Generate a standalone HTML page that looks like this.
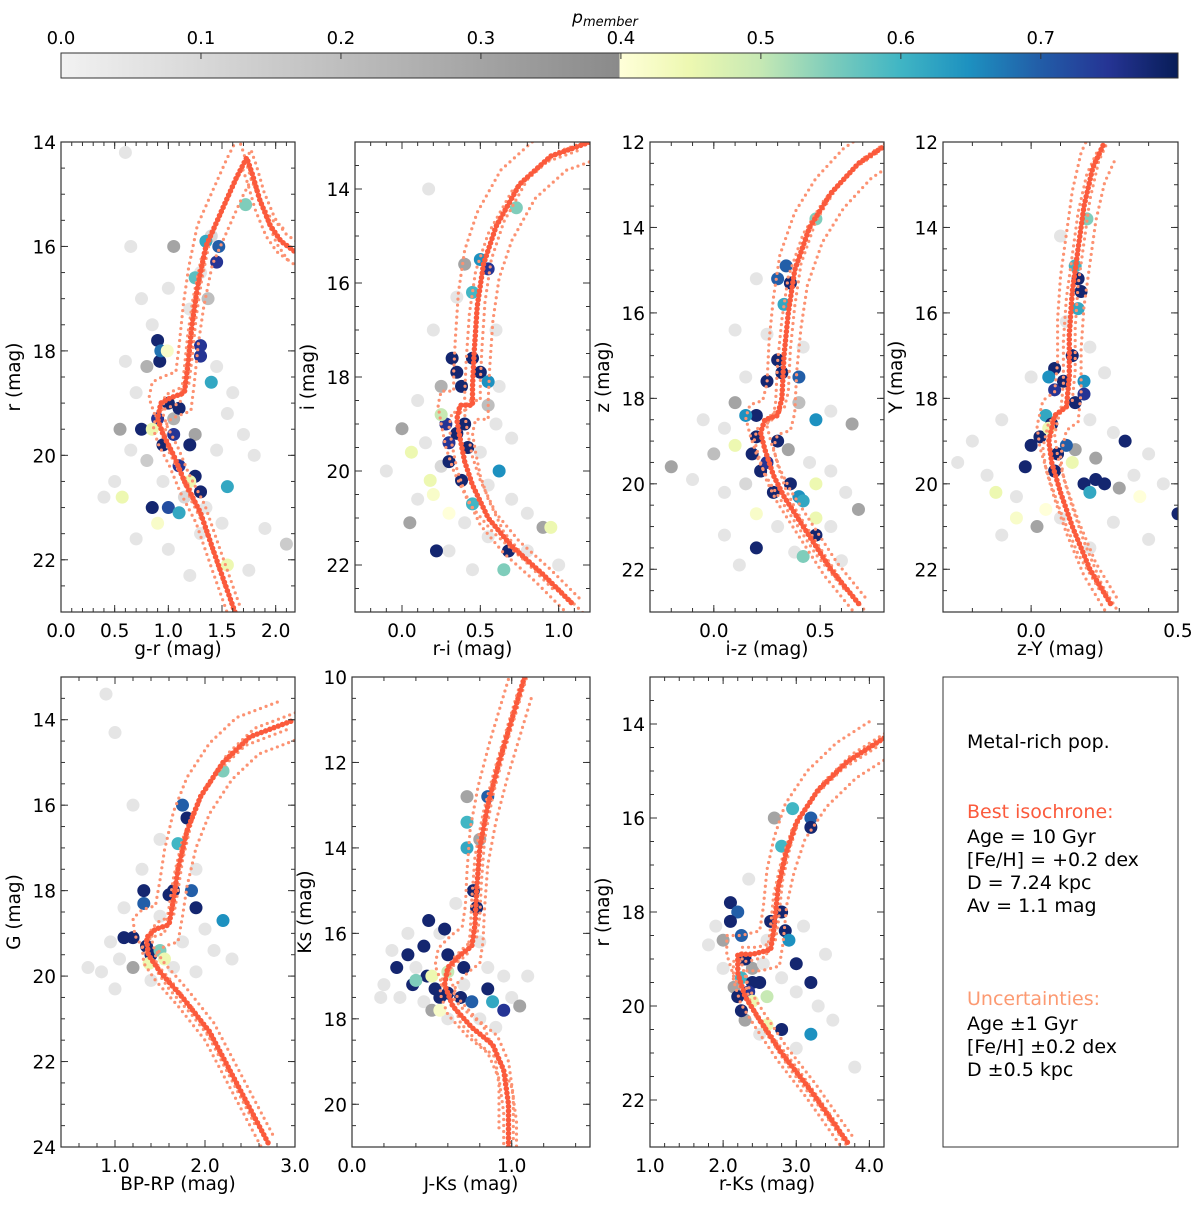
<!DOCTYPE html>
<html><head><meta charset="utf-8"><style>
body{margin:0;background:#fff}
svg{display:block;font-family:"DejaVu Sans","Liberation Sans",sans-serif}
</style></head><body>
<svg id="fig" width="1200" height="1208" viewBox="0 0 1200 1208" xmlns="http://www.w3.org/2000/svg">
<defs>
<linearGradient id="cbgrad" x1="0" x2="1" y1="0" y2="0">
<stop offset="0" stop-color="#f2f2f2"/><stop offset="0.5" stop-color="#8a8a8a"/>
<stop offset="0.5" stop-color="#ffffd9"/><stop offset="0.5625" stop-color="#edf8b1"/><stop offset="0.625" stop-color="#c7e9b4"/><stop offset="0.6875" stop-color="#7fcdbb"/><stop offset="0.75" stop-color="#41b6c4"/><stop offset="0.8125" stop-color="#1d91c0"/><stop offset="0.875" stop-color="#225ea8"/><stop offset="0.9375" stop-color="#253494"/><stop offset="1" stop-color="#081d58"/>
</linearGradient>
</defs>
<g>
<text x="605" y="23" font-size="17" font-style="italic" text-anchor="middle">p<tspan font-size="13" dy="3">member</tspan></text>
<rect x="61" y="53" width="1117" height="25" fill="url(#cbgrad)" stroke="#333" stroke-width="1"/>
<g id="cbticks"></g>
</g>
<g id="panels"></g>
<g>
<rect x="943" y="677" width="235" height="470" fill="none" stroke="#333" stroke-width="1"/>
<g font-size="19" font-family="'DejaVu Sans','Liberation Sans',sans-serif">
<text x="967" y="748">Metal-rich pop.</text>
<text x="967" y="818" fill="#fb5a3c">Best isochrone:</text>
<text x="967" y="843">Age = 10 Gyr</text>
<text x="967" y="866">[Fe/H] = +0.2 dex</text>
<text x="967" y="889">D = 7.24 kpc</text>
<text x="967" y="912">Av = 1.1 mag</text>
<text x="967" y="1005" fill="#fc9a72">Uncertainties:</text>
<text x="967" y="1030">Age ±1 Gyr</text>
<text x="967" y="1053">[Fe/H] ±0.2 dex</text>
<text x="967" y="1076">D ±0.5 kpc</text>
</g>
</g>
</svg>
<script>
// ---- colorbar data ----
const cbTicks = [0.0,0.1,0.2,0.3,0.4,0.5,0.6,0.7];
const cbMax = 0.798;

// ---- panel 1: g-r vs r ----
const p1Iso = [[1.62,23],[1.45,22],[1.3,21.1],[1.15,20.5],[1.05,20],[0.95,19.6],[0.9,19.3],[0.93,19.0],[1.02,18.9],[1.15,18.8],[1.18,18.3],[1.22,17.5],[1.27,16.8],[1.35,16.0],[1.5,15.3],[1.63,14.7],[1.73,14.3],[1.78,14.6],[1.85,15.1],[1.95,15.6],[2.05,15.9],[2.18,16.1]];
const p1Offsets = [[-0.08,-0.4],[0.06,0.35],[0.04,-0.15],[-0.04,0.2]];
const p1Members = [[0.9,17.8,.78],[0.92,18.2,.78],[1.3,17.9,.75],[1.3,18.1,.75],[1.4,18.6,.62],[1.35,15.9,.62],[1.47,16.0,.7],[1.45,16.3,.75],[1.25,16.6,.58],[1.72,15.2,.55],[0.75,19.5,.78],[0.9,19.3,.75],[1.0,19.0,.78],[1.1,19.1,.78],[1.05,19.6,.75],[1.2,19.8,.78],[1.1,20.2,.75],[1.25,20.4,.78],[1.3,20.7,.78],[1.55,20.6,.62],[0.95,19.8,.78],[0.85,21.0,.78],[1.0,21.0,.72],[1.1,21.1,.62],[0.57,20.8,.45],[0.9,21.3,.42],[1.55,22.1,.45],[0.85,19.5,.45],[1.2,20.5,.45],[0.93,18.0,.68],[0.99,18.0,.42]];
const p1Field = [[0.65,16.0,.05],[1.05,16.0,.3],[1.4,15.8,.1],[1.3,16.5,.05],[0.85,17.5,.05],[1.2,17.2,.05],[0.6,18.2,.05],[0.7,18.8,.05],[0.8,18.3,.25],[1.45,18.3,.05],[0.55,19.5,.3],[0.65,19.9,.05],[0.8,20.1,.15],[0.5,20.5,.05],[1.45,19.9,.05],[1.55,19.2,.05],[1.7,19.6,.05],[1.8,20.0,.05],[0.95,20.5,.05],[1.15,20.8,.1],[1.35,21.0,.05],[1.5,21.3,.05],[0.7,21.6,.05],[1.0,21.8,.05],[1.3,21.5,.05],[1.9,21.4,.05],[2.1,21.7,.15],[1.75,22.2,.05],[0.4,20.8,.05],[1.2,22.3,.05],[0.6,14.2,.05],[1.6,18.8,.05],[1.05,19.3,.25],[1.25,19.6,.3],[1.37,17.0,.2],[0.75,17.0,.05],[1.0,16.8,.05]];

// ---- panel 2: r-i vs i ----
const p2Iso = [[1.08,22.8],[0.9,22.2],[0.7,21.6],[0.55,21],[0.45,20.3],[0.4,19.8],[0.37,19.3],[0.35,18.9],[0.37,18.6],[0.45,18.6],[0.45,18.2],[0.46,17.5],[0.48,16.5],[0.52,15.6],[0.6,14.8],[0.75,13.9],[0.95,13.3],[1.2,13.0]];
const p2Offsets = [[-0.12,-0.3],[0.1,0.3],[0.05,-0.1],[-0.05,0.15]];
const p2Members = [[0.32,17.6,.78],[0.35,17.9,.78],[0.38,18.2,.78],[0.45,17.6,.78],[0.5,17.9,.78],[0.55,18.1,.65],[0.5,15.5,.65],[0.55,15.7,.75],[0.45,16.2,.6],[0.73,14.4,.55],[0.28,19.0,.75],[0.3,19.4,.75],[0.3,19.8,.78],[0.35,19.2,.78],[0.4,19.0,.78],[0.42,19.5,.78],[0.38,20.2,.78],[0.45,20.7,.6],[0.62,20.0,.65],[0.22,21.7,.78],[0.68,21.7,.78],[0.65,22.1,.55],[0.06,19.6,.45],[0.18,20.2,.45],[0.2,20.5,.42],[0.95,21.2,.45],[0.3,20.9,.4],[0.25,18.8,.5]];
const p2Field = [[0.17,14.0,.05],[0.4,15.6,.3],[0.35,16.3,.05],[0.2,17.0,.05],[0.6,17.0,.05],[0.25,18.2,.25],[0.1,18.5,.05],[0.0,19.1,.3],[0.55,18.6,.2],[0.6,19.0,.05],[0.7,19.3,.05],[0.15,19.4,.05],[0.5,19.6,.05],[0.25,19.9,.1],[0.55,20.3,.05],[0.1,20.6,.05],[0.7,20.6,.05],[0.8,20.9,.05],[0.05,21.1,.3],[0.4,21.1,.05],[0.55,21.4,.05],[0.9,21.2,.3],[0.3,21.7,.05],[0.8,21.7,.05],[0.45,22.1,.05],[1.0,22.0,.05],[-0.1,20.0,.05],[0.62,18.2,.05]];

// ---- panel 3: i-z vs z ----
const p3Iso = [[0.68,22.8],[0.55,22],[0.42,21],[0.33,20.3],[0.28,19.8],[0.24,19.2],[0.22,18.8],[0.24,18.5],[0.3,18.4],[0.32,18.0],[0.33,17],[0.35,16],[0.38,15],[0.45,14],[0.55,13.2],[0.68,12.5],[0.8,12.1]];
const p3Offsets = [[-0.07,-0.35],[0.06,0.35],[0.03,-0.15],[-0.03,0.15]];
const p3Members = [[0.3,17.1,.78],[0.32,17.4,.78],[0.25,17.6,.78],[0.4,17.5,.7],[0.2,18.4,.78],[0.2,18.9,.78],[0.18,19.3,.78],[0.22,19.7,.78],[0.25,19.5,.75],[0.3,19.0,.78],[0.28,20.2,.78],[0.36,20.0,.78],[0.4,20.3,.65],[0.42,20.4,.62],[0.34,14.9,.7],[0.36,15.3,.78],[0.3,15.2,.7],[0.33,15.8,.62],[0.48,13.8,.55],[0.15,18.4,.65],[0.48,18.5,.65],[0.2,21.5,.78],[0.48,21.2,.78],[0.42,21.7,.55],[0.48,20.0,.45],[0.48,20.8,.45],[0.2,20.7,.42],[0.1,19.1,.45]];
const p3Field = [[0.2,15.2,.05],[0.25,16.5,.05],[0.15,17.5,.05],[0.1,18.1,.3],[0.4,18.1,.2],[0.05,18.7,.05],[0.55,18.3,.05],[0.0,19.3,.2],[0.35,19.2,.3],[0.45,19.5,.05],[-0.2,19.6,.3],[-0.1,19.9,.05],[0.05,20.2,.05],[0.15,20.0,.1],[0.55,19.7,.05],[0.65,18.6,.3],[0.62,20.2,.05],[0.68,20.6,.3],[0.55,21.0,.05],[0.3,21.0,.05],[0.05,21.2,.05],[0.38,21.6,.05],[0.12,21.9,.05],[0.6,21.8,.05],[0.1,16.4,.05],[0.42,16.8,.05],[-0.05,18.5,.05]];

// ---- panel 4: z-Y vs Y ----
const p4Iso = [[0.27,22.8],[0.2,22],[0.14,21],[0.1,20.2],[0.07,19.5],[0.06,19.0],[0.08,18.4],[0.12,18.2],[0.13,17.5],[0.13,16.5],[0.14,15.5],[0.16,14.5],[0.18,13.5],[0.21,12.6],[0.25,12.0]];
const p4Offsets = [[-0.04,-0.35],[0.04,0.35],[0.02,-0.15],[-0.02,0.15]];
const p4Members = [[0.14,17.0,.78],[0.08,17.3,.78],[0.06,17.5,.65],[0.08,17.8,.75],[0.11,17.6,.78],[0.18,17.6,.65],[0.18,17.9,.75],[0.15,18.1,.78],[0.05,18.4,.62],[0.07,18.6,.78],[0.03,18.9,.78],[0.0,19.1,.78],[0.09,19.3,.78],[0.12,19.1,.7],[0.08,19.7,.78],[-0.02,19.6,.78],[0.18,20.0,.78],[0.2,20.2,.62],[0.22,19.9,.78],[0.25,20.0,.78],[0.32,19.0,.78],[0.5,20.7,.78],[0.19,13.8,.55],[0.16,15.2,.78],[0.17,15.5,.78],[0.15,14.9,.6],[0.16,15.9,.62],[-0.12,20.2,.45],[-0.05,20.8,.42],[0.05,20.6,.4],[0.37,20.3,.4],[0.06,18.7,.45],[0.14,19.5,.45]];
const p4Field = [[0.1,14.2,.05],[0.12,16.2,.05],[0.2,16.8,.05],[0.0,17.5,.05],[0.25,17.4,.05],[-0.1,18.5,.05],[-0.2,19.0,.05],[0.2,18.5,.05],[0.28,18.8,.05],[0.4,19.3,.05],[-0.25,19.5,.05],[-0.15,19.8,.05],[0.15,19.2,.3],[0.22,19.4,.3],[0.3,20.1,.3],[0.35,19.8,.05],[0.45,20.0,.05],[-0.05,20.3,.05],[0.02,21.0,.3],[0.1,20.8,.05],[0.28,20.9,.05],[0.4,21.3,.05],[0.2,21.5,.05],[-0.1,21.2,.05]];

// ---- panel 5: BP-RP vs G ----
const p5Iso = [[2.7,23.9],[2.35,22.5],[2.05,21.3],[1.75,20.5],[1.5,19.9],[1.37,19.5],[1.35,19.1],[1.45,18.9],[1.6,18.8],[1.65,18.2],[1.7,17.5],[1.8,16.6],[1.95,15.8],[2.2,15.0],[2.5,14.4],[3.0,14.0]];
const p5Offsets = [[-0.15,-0.45],[0.1,0.4],[0.05,-0.2],[-0.05,0.2]];
const p5Members = [[1.32,18.0,.78],[1.32,18.3,.7],[1.6,18.1,.78],[1.65,18.0,.78],[1.85,18.0,.7],[1.9,18.4,.78],[2.2,18.7,.65],[1.1,19.1,.78],[1.2,19.1,.78],[1.35,19.3,.78],[1.4,19.5,.78],[1.5,19.4,.55],[1.75,16.0,.7],[1.8,16.3,.78],[1.7,16.9,.6],[2.2,15.2,.55],[1.38,19.7,.45],[1.55,19.6,.45]];
const p5Field = [[0.9,13.4,.05],[1.0,14.3,.05],[1.2,16.0,.05],[1.5,16.8,.05],[1.3,17.5,.05],[1.9,17.5,.05],[1.1,18.4,.05],[1.5,18.6,.05],[2.0,18.9,.05],[0.95,19.2,.05],[1.75,19.2,.05],[2.1,19.4,.05],[0.7,19.8,.05],[0.85,19.9,.05],[1.05,19.6,.05],[1.2,19.8,.3],[1.65,19.8,.05],[1.9,19.9,.05],[2.3,19.6,.05],[1.4,20.1,.05],[1.0,20.3,.05]];

// ---- panel 6: J-Ks vs Ks ----
const p6Iso = [[0.98,21],[0.98,20],[0.95,19.2],[0.88,18.6],[0.75,18.2],[0.63,17.7],[0.58,17.2],[0.6,16.8],[0.68,16.5],[0.75,16.3],[0.77,15.8],[0.78,15],[0.8,14],[0.85,13],[0.92,12],[1.0,11],[1.08,10]];
const p6Offsets = [[-0.06,-0.45],[0.05,0.4],[0.03,-0.2],[-0.03,0.2]];
const p6Members = [[0.48,15.7,.78],[0.58,15.9,.78],[0.45,16.3,.78],[0.6,16.5,.78],[0.7,16.8,.78],[0.35,16.5,.78],[0.28,16.8,.78],[0.47,17.0,.78],[0.38,17.2,.78],[0.52,17.3,.78],[0.6,17.4,.78],[0.68,17.5,.78],[0.55,17.5,.78],[0.75,17.6,.7],[0.95,17.8,.75],[0.88,17.6,.62],[0.85,17.3,.78],[0.76,15.0,.78],[0.78,15.4,.78],[0.72,14.0,.62],[0.72,13.4,.6],[0.85,12.8,.7],[0.5,17.0,.45],[0.4,17.1,.55],[0.55,17.8,.42],[0.6,16.9,.5]];
const p6Field = [[0.72,12.8,.3],[0.8,13.8,.3],[0.65,15.3,.05],[0.55,16.0,.05],[0.25,16.4,.05],[0.35,16.0,.05],[0.8,16.2,.05],[0.2,17.2,.05],[0.3,17.5,.05],[0.45,17.6,.05],[0.5,17.8,.3],[0.7,17.2,.05],[0.85,16.8,.05],[0.95,17.0,.05],[1.0,17.5,.05],[1.05,17.7,.3],[0.8,18.0,.05],[0.6,18.0,.05],[0.18,17.5,.05],[0.4,16.8,.05],[1.1,17.0,.05],[0.9,18.2,.05]];

// ---- panel 7: r-Ks vs r ----
const p7Iso = [[3.7,22.9],[3.2,21.8],[2.8,21],[2.5,20.3],[2.3,19.8],[2.2,19.3],[2.2,18.9],[2.4,18.9],[2.65,18.8],[2.7,18.3],[2.75,17.5],[2.85,16.8],[3.0,16.1],[3.3,15.4],[3.7,14.8],[4.2,14.3]];
const p7Offsets = [[-0.15,-0.4],[0.12,0.35],[0.06,-0.15],[-0.06,0.15]];
const p7Members = [[2.1,17.8,.78],[2.2,18.0,.7],[2.1,18.2,.78],[2.25,18.5,.7],[2.65,18.2,.78],[2.8,18.0,.78],[2.85,18.4,.78],[2.3,19.0,.78],[2.25,19.4,.6],[2.4,19.5,.78],[2.5,19.5,.78],[2.2,19.8,.78],[2.35,19.7,.75],[2.25,20.1,.78],[3.0,19.1,.78],[3.2,19.5,.78],[2.9,18.6,.65],[2.4,19.9,.45],[2.6,19.8,.5],[2.8,20.5,.78],[3.2,20.6,.65],[2.8,16.6,.6],[2.95,15.8,.6],[3.2,16.0,.7],[3.2,16.2,.78],[2.6,20.4,.45]];
const p7Field = [[2.7,16.0,.3],[2.35,17.3,.05],[1.9,18.3,.05],[2.0,18.6,.3],[2.6,18.6,.05],[3.1,18.3,.05],[1.8,18.7,.05],[2.0,19.2,.05],[2.4,19.2,.3],[2.8,19.4,.05],[3.0,19.7,.05],[3.3,20.0,.05],[3.5,20.3,.05],[2.3,20.3,.3],[2.5,20.6,.05],[3.0,20.9,.05],[3.8,21.3,.05],[3.4,18.9,.05],[2.55,19.1,.05],[2.15,19.6,.3]];

const SVGNS = "http://www.w3.org/2000/svg";
function mk(tag, attrs, parent){const e=document.createElementNS(SVGNS,tag);for(const k in attrs)e.setAttribute(k,attrs[k]);if(parent)parent.appendChild(e);return e;}

function hex(c){return [parseInt(c.slice(1,3),16),parseInt(c.slice(3,5),16),parseInt(c.slice(5,7),16)];}
const ylgnbu=["#ffffd9","#edf8b1","#c7e9b4","#7fcdbb","#41b6c4","#1d91c0","#225ea8","#253494","#081d58"];
function pcolor(p){
  if(p<0.4){const t=p/0.4;const v=Math.round(242-(242-138)*t);return `rgb(${v},${v},${v})`;}
  let t=Math.min(1,(p-0.4)/0.4)*(ylgnbu.length-1);const i=Math.min(ylgnbu.length-2,Math.floor(t));const f=t-i;
  const a=hex(ylgnbu[i]),b=hex(ylgnbu[i+1]);
  return `rgb(${a.map((v,k)=>Math.round(v+(b[k]-v)*f)).join(",")})`;
}

// colorbar ticks
const cbg=document.getElementById("cbticks");
cbTicks.forEach(v=>{
  const x=61+(v/cbMax)*1117;
  const t=mk("text",{x:x,y:44,"font-size":"18","text-anchor":"middle"},cbg);
  
  
  t.textContent=v.toFixed(1);
  const l=mk("line",{x1:x,x2:x,y1:53,y2:59,stroke:"#333"},cbg);
  
  
});

const panels=[
 {id:"gr-r",px:61,py:142,w:234,h:470,xmin:0,xmax:2.18,ymin:14,ymax:23,xt:[0,0.5,1,1.5,2],xm:0.1,yt:[14,16,18,20,22],xl:"g-r (mag)",yl:"r (mag)",iso:p1Iso,off:p1Offsets,mem:p1Members,fld:p1Field},
 {id:"ri-i",px:355,py:142,w:235,h:470,xmin:-0.3,xmax:1.2,ymin:13,ymax:23,xt:[0,0.5,1],xm:0.1,yt:[14,16,18,20,22],xl:"r-i (mag)",yl:"i (mag)",iso:p2Iso,off:p2Offsets,mem:p2Members,fld:p2Field},
 {id:"iz-z",px:650,py:142,w:234,h:470,xmin:-0.3,xmax:0.8,ymin:12,ymax:23,xt:[0,0.5],xm:0.1,yt:[12,14,16,18,20,22],xl:"i-z (mag)",yl:"z (mag)",iso:p3Iso,off:p3Offsets,mem:p3Members,fld:p3Field},
 {id:"zy-y",px:943,py:142,w:235,h:470,xmin:-0.3,xmax:0.5,ymin:12,ymax:23,xt:[0,0.5],xm:0.1,yt:[12,14,16,18,20,22],xl:"z-Y (mag)",yl:"Y (mag)",iso:p4Iso,off:p4Offsets,mem:p4Members,fld:p4Field},
 {id:"bprp-g",px:61,py:677,w:234,h:470,xmin:0.4,xmax:3.0,ymin:13,ymax:24,xt:[1,2,3],xm:0.2,yt:[14,16,18,20,22,24],xl:"BP-RP (mag)",yl:"G (mag)",iso:p5Iso,off:p5Offsets,mem:p5Members,fld:p5Field},
 {id:"jks-ks",px:352,py:677,w:238,h:470,xmin:0,xmax:1.49,ymin:10,ymax:21,xt:[0,1],xm:0.2,yt:[10,12,14,16,18,20],xl:"J-Ks (mag)",yl:"Ks (mag)",iso:p6Iso,off:p6Offsets,mem:p6Members,fld:p6Field},
 {id:"rks-r",px:650,py:677,w:234,h:470,xmin:1.0,xmax:4.2,ymin:13,ymax:23,xt:[1,2,3,4],xm:0.2,yt:[14,16,18,20,22],xl:"r-Ks (mag)",yl:"r (mag)",iso:p7Iso,off:p7Offsets,mem:p7Members,fld:p7Field}
];

const root=document.getElementById("panels");
panels.forEach(P=>{
  const g=mk("g",{},root);
  
  
  const X=v=>P.px+(v-P.xmin)/(P.xmax-P.xmin)*P.w;
  const Y=v=>P.py+(v-P.ymin)/(P.ymax-P.ymin)*P.h;
  const cid="clip-"+P.id;
  const cp=mk("clipPath",{id:cid},g);mk("rect",{x:P.px,y:P.py,width:P.w,height:P.h},cp);
  const plot=mk("g",{"clip-path":`url(#${cid})`},g);
  
  
  P.fld.forEach(s=>{
    const c=mk("circle",{cx:X(s[0]),cy:Y(s[1]),r:6.5,fill:pcolor(s[2])},plot);
    
    
  });
  P.mem.forEach(s=>{
    const c=mk("circle",{cx:X(s[0]),cy:Y(s[1]),r:6.5,fill:pcolor(s[2])},plot);
    
    
  });
  P.off.forEach(o=>{
    const pts=P.iso.map(p=>X(p[0]+o[0]).toFixed(1)+","+Y(p[1]+o[1]).toFixed(1)).join(" ");
    const l=mk("polyline",{points:pts,fill:"none",stroke:"#fc9272","stroke-width":3.2,"stroke-linecap":"round","stroke-dasharray":"0 6"},plot);
    
    
  });
  const pts=P.iso.map(p=>X(p[0]).toFixed(1)+","+Y(p[1]).toFixed(1)).join(" ");
  const bl=mk("polyline",{points:pts,fill:"none",stroke:"#fb5a3c","stroke-width":5.5,"stroke-linecap":"round","stroke-dasharray":"0 4.5"},plot);
  
  
  const fr=mk("rect",{x:P.px,y:P.py,width:P.w,height:P.h,fill:"none",stroke:"#333","stroke-width":1.2},g);
  
  
  // minor ticks
  const tk=mk("g",{stroke:"#333","stroke-width":1},g);
  
  
  const nx=Math.round((P.xmax-P.xmin)/P.xm)+2, sx=Math.ceil(P.xmin/P.xm-1e-6);
  for(let i=0;i<nx;i++){const v=(sx+i)*P.xm;if(v>P.xmax+1e-6)break;const x=X(v);
    mk("line",{x1:x,x2:x,y1:P.py+P.h,y2:P.py+P.h-4},tk);mk("line",{x1:x,x2:x,y1:P.py,y2:P.py+4},tk);}
  for(let v=Math.ceil(P.ymin*2)/2;v<=P.ymax+1e-6;v+=0.5){const y=Y(v);
    mk("line",{x1:P.px,x2:P.px+4,y1:y,y2:y},tk);mk("line",{x1:P.px+P.w,x2:P.px+P.w-4,y1:y,y2:y},tk);}
  P.xt.forEach(v=>{
    const x=X(v);
    mk("line",{x1:x,x2:x,y1:P.py+P.h,y2:P.py+P.h-7},tk);
    mk("line",{x1:x,x2:x,y1:P.py,y2:P.py+7},tk);
    const t=mk("text",{x:x,y:P.py+P.h+25,"font-size":"18.5","text-anchor":"middle"},g);
    
    
    t.textContent=v.toFixed(1);
  });
  P.yt.forEach(v=>{
    const y=Y(v);
    mk("line",{x1:P.px,x2:P.px+7,y1:y,y2:y},tk);
    mk("line",{x1:P.px+P.w,x2:P.px+P.w-7,y1:y,y2:y},tk);
    const t=mk("text",{x:P.px-5,y:y+7,"font-size":"18.5","text-anchor":"end"},g);
    
    
    t.textContent=v;
  });
  const xl=mk("text",{x:P.px+P.w/2,y:P.py+P.h+43,"font-size":"18.5","text-anchor":"middle"},g);
  
  
  xl.textContent=P.xl;
  const cy=P.py+P.h/2, ylx=P.px-41;
  const yl=mk("text",{x:ylx,y:cy,"font-size":"18.5","text-anchor":"middle",transform:`rotate(-90 ${ylx} ${cy})`},g);
  
  
  yl.textContent=P.yl;
});
</script>
</body></html>
